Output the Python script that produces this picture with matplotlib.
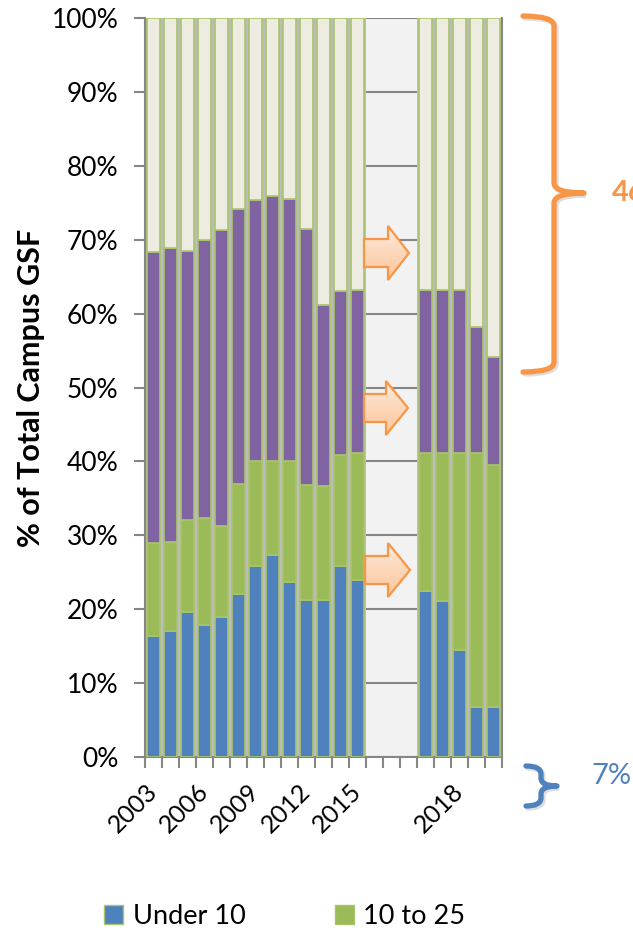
import numpy as np
import matplotlib
matplotlib.use("Agg")
import matplotlib.pyplot as plt
from matplotlib.patches import Polygon, PathPatch, Patch
from matplotlib.path import Path
from matplotlib.colors import LinearSegmentedColormap

plt.rcParams['font.family'] = ['Lato', 'DejaVu Sans']

# Category slots (three empty slots separate the historical and later years)
years = ['2003', '2004', '2005', '2006', '2007', '2008', '2009', '2010', '2011',
         '2012', '2013', '2014', '2015', '', '', '', '2016', '2017', '2018',
         '2019', '2020']
nan = np.nan
# Share of total campus GSF (%) by building age band
under_10 = [16.4, 17.0, 19.6, 17.9, 18.9, 22.1, 25.9, 27.3, 23.7, 21.2, 21.2, 25.8, 24.0,
            nan, nan, nan, 22.5, 21.1, 14.5, 6.7, 6.7]
ten_to_25 = [12.6, 12.1, 12.5, 14.4, 12.3, 14.9, 14.2, 12.8, 16.4, 15.6, 15.5, 15.0, 17.1,
             nan, nan, nan, 18.7, 20.1, 26.7, 34.5, 32.8]
twentyfive_to_50 = [39.3, 39.8, 36.4, 37.7, 40.1, 37.1, 35.3, 35.8, 35.4, 34.7, 24.5, 22.2, 22.1,
                    nan, nan, nan, 22.0, 22.0, 22.0, 17.0, 14.6]
over_50 = [31.7, 31.1, 31.5, 30.0, 28.7, 25.9, 24.6, 24.1, 24.5, 28.5, 38.8, 37.0, 36.8,
           nan, nan, nan, 36.8, 36.8, 36.8, 41.8, 45.9]

series = [("Under 10", under_10, '#4f81bd'),
          ("10 to 25", ten_to_25, '#9bbb59'),
          ("25 to 50", twentyfive_to_50, '#8064a2'),
          ("Over 50", over_50, '#eeece1')]
y_ticks = [0, 10, 20, 30, 40, 50, 60, 70, 80, 90, 100]

W, H = 633, 932
fig = plt.figure(figsize=(W / 100, H / 100), dpi=100)
ax = fig.add_axes([145 / W, 1 - 757 / H, 357 / W, 739 / H])
ax.set_facecolor('#f2f2f2')

x = np.arange(len(years))
grid_col = '#868686'

# soft grey shadow behind each stacked column
totals = np.nansum(np.array([s[1] for s in series]), axis=0)
totals = np.where(np.isnan(np.array(under_10)), np.nan, totals)
ax.bar(x, totals, width=1.0, color='#bcbcbc', linewidth=0, zorder=2)

bottom = np.zeros(len(years))
for name, vals, col in series:
    v = np.array(vals, dtype=float)
    ax.bar(x, v, width=0.8, bottom=bottom, color=col, edgecolor='#a9c46c',
           linewidth=1.2, zorder=3, label=name)
    bottom = bottom + np.nan_to_num(v)

ax.set_xlim(-0.5, len(years) - 0.5)
ax.set_ylim(0, 100)
ax.set_yticks(y_ticks)
ax.set_yticklabels([f"{t}%" for t in y_ticks], fontsize=19)
ax.yaxis.grid(True, color=grid_col, linewidth=1.5, zorder=1)
ax.set_axisbelow(True)

ax.set_xticks(x[::3])
ax.set_xticklabels(years[::3], rotation=45, ha='right', va='center',
                   rotation_mode='anchor', fontsize=18)
ax.set_xticks(np.arange(len(years) + 1) - 0.5, minor=True)
ax.tick_params(axis='x', which='major', length=0, pad=22)
ax.tick_params(axis='x', which='minor', length=8, width=1.5, color=grid_col)
ax.tick_params(axis='y', length=8, width=1.5, color=grid_col, pad=11)
for side in ['left', 'bottom', 'right', 'top']:
    ax.spines[side].set_color(grid_col)
    ax.spines[side].set_linewidth(1.5)
ax.spines['top'].set_visible(False)

ax.set_ylabel("% of Total Campus GSF", fontsize=22, fontweight='bold', labelpad=5)

# legend along the bottom edge
handles = [Patch(facecolor=c, edgecolor='#a9c46c', linewidth=1.0) for _, _, c in series[:2]]
fig.legend(handles, [n for n, _, _ in series[:2]], loc='center left',
           bbox_to_anchor=(80 / W, 1 - 916 / H), ncol=2, frameon=False,
           fontsize=19.5, handlelength=0.7, handleheight=0.7, handletextpad=0.35,
           columnspacing=3.3)

# overlay in pixel coordinates for arrows and braces
ov = fig.add_axes([0, 0, 1, 1], zorder=5)
ov.set_xlim(0, W)
ov.set_ylim(H, 0)
ov.axis('off')
ov.patch.set_visible(False)

grad = np.linspace(0, 1, 64).reshape(-1, 1)
arrow_cmap = LinearSegmentedColormap.from_list('arr', ['#fee9da', '#fbc59a'])

def block_arrow(x0, x1, yc, hs):
    bh, hh = 14, 27
    pts = [(x0, yc - bh), (hs, yc - bh), (hs, yc - hh), (x1, yc),
           (hs, yc + hh), (hs, yc + bh), (x0, yc + bh)]
    poly = Polygon(pts, closed=True, facecolor='none', edgecolor='#f79646',
                   linewidth=1.6, zorder=6)
    ov.add_patch(poly)
    im = ov.imshow(grad, cmap=arrow_cmap, aspect='auto',
                   extent=(x0, x1, yc + hh, yc - hh), zorder=5)
    im.set_clip_path(poly)

block_arrow(364, 409, 253, 388)
block_arrow(364, 408, 408, 386)
block_arrow(365, 410, 570, 388)

def brace(xl, xm, xt, y0, y1, ym, color, lw, r):
    verts = [(xl, y0), (xm, y0), (xm, y0 + r),
             (xm, ym - r), (xm, ym), (xt, ym),
             (xm, ym), (xm, ym + r),
             (xm, y1 - r), (xm, y1), (xl, y1)]
    codes = [Path.MOVETO, Path.CURVE3, Path.CURVE3,
             Path.LINETO, Path.CURVE3, Path.CURVE3,
             Path.CURVE3, Path.CURVE3,
             Path.LINETO, Path.CURVE3, Path.CURVE3]
    shadow = PathPatch(Path([(vx + 2, vy + 2) for vx, vy in verts], codes),
                       facecolor='none', edgecolor='#dedede', linewidth=lw,
                       capstyle='round', zorder=5)
    ov.add_patch(shadow)
    ov.add_patch(PathPatch(Path(verts, codes), facecolor='none', edgecolor=color,
                           linewidth=lw, capstyle='round', joinstyle='round', zorder=6))

brace(523, 554, 584, 16, 372, 193, '#f79646', 3.8, 10)
brace(526, 541, 557, 766, 806, 786, '#4f81bd', 3.8, 8)

ov.text(612, 193, f"{round(over_50[-1])}%", color='#f79646', fontsize=21,
        fontweight='bold', va='center', ha='left')
ov.text(591, 776, f"{round(under_10[-1])}%", color='#4f81bd', fontsize=21,
        va='center', ha='left')

fig.savefig("out.png", dpi=100)
